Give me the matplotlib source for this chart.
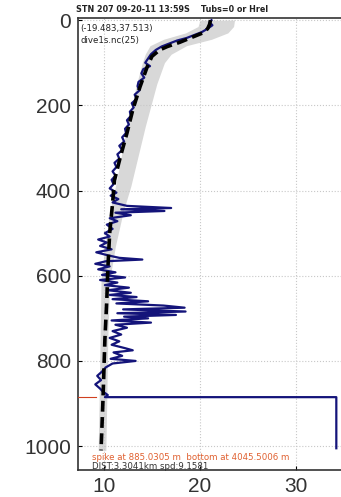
import matplotlib
matplotlib.use("Agg")
import matplotlib.pyplot as plt

plt.rcParams["font.family"] = ["Liberation Sans", "DejaVu Sans"]

# climatology envelope (depth m, temperature)
band_depth = [0, 15, 30, 45, 60, 80, 100, 150, 250, 390, 450, 530, 610, 750, 890, 1010]
band_lo = [20.0, 19.8, 18.5, 16.2, 14.8, 14.3, 14.0, 13.4, 12.4, 11.2, 10.6, 10.1, 9.7, 9.6, 9.5, 9.4]
band_hi = [23.6, 23.5, 22.9, 21.2, 18.6, 17.0, 16.3, 15.5, 14.3, 12.8, 12.0, 11.2, 10.6, 10.4, 10.3, 10.2]

# reference profile
ref_depth = [0, 10, 20, 30, 40, 52, 62, 70, 85, 110, 157, 211, 265, 322, 376, 430,
             500, 587, 657, 750, 892, 1010]
ref_temp = [21.1, 21.0, 20.8, 20.3, 19.2, 17.9, 16.6, 15.8, 15.0, 14.5, 13.75, 13.0,
            12.4, 11.7, 11.1, 10.9, 10.6, 10.4, 10.3, 10.1, 9.9, 9.7]

# measured cast
cast_depth = [0, 5, 12, 20, 28, 35, 42, 48, 55, 62, 70, 80, 90, 100, 108, 115, 125,
              135, 145, 155, 165, 175, 185, 195, 205, 215, 225, 235, 245, 255, 265,
              275, 285, 295, 305, 315, 325, 335, 345, 355, 365, 375, 385, 395, 405,
              412, 420, 428, 436, 441, 444, 448, 452, 458, 465, 472, 480, 490, 500,
              508, 515, 522, 530, 538, 545, 552, 558, 562, 566, 572, 578, 585, 592,
              598, 604, 610, 616, 622, 628, 634, 640, 645, 650, 655, 660, 665, 670,
              675, 679, 684, 688, 692, 696, 700, 705, 710, 715, 722, 730, 738, 746,
              754, 762, 770, 775, 780, 788, 795, 800, 806, 815, 825, 835, 845, 855,
              865, 872, 880, 885, 885, 1005]
cast_temp = [21.2, 21.0, 21.3, 20.8, 20.2, 19.4, 18.6, 17.6, 16.8, 16.0, 15.4, 14.9,
             14.6, 14.3, 14.8, 14.1, 13.9, 14.2, 13.6, 13.5, 13.7, 13.2, 13.4, 12.9,
             13.1, 12.7, 12.8, 12.4, 12.6, 12.2, 12.3, 11.9, 12.1, 11.6, 11.9, 11.4,
             11.6, 11.1, 11.3, 10.9, 11.2, 10.8, 11.0, 10.6, 11.3, 10.7, 11.5, 10.9,
             12.4, 17.0, 11.8, 16.3, 11.2, 12.8, 10.6, 11.4, 10.3, 10.9, 10.1, 10.6,
             9.4, 10.3, 9.6, 10.8, 9.2, 10.4, 11.6, 14.0, 10.2, 9.1, 10.6, 9.4, 11.2,
             9.8, 12.2, 9.6, 11.4, 10.1, 12.6, 10.4, 12.8, 10.6, 13.4, 10.9, 14.6,
             11.3, 16.2, 18.4, 12.0, 18.5, 11.4, 17.5, 12.1, 14.6, 10.8, 14.9, 11.2,
             12.4, 10.9, 11.8, 10.6, 11.6, 10.8, 12.2, 13.0, 11.0, 11.9, 10.7, 13.3,
             10.9, 10.2, 9.8, 9.3, 9.7, 9.1, 9.6, 9.9, 10.4, 10.1, 34.2, 34.2]

spike_depth = 885.0305
x_ticks = [10, 20, 30]
y_ticks = [0, 200, 400, 600, 800, 1000]

fig = plt.figure(figsize=(3.41, 4.97), dpi=100)
ax = fig.add_axes([78 / 341, 27 / 497, 266 / 341, 452 / 497])

ax.fill_betweenx(band_depth, band_lo, band_hi, color="#d8d8d8", lw=0, zorder=1)
ax.plot(cast_temp, cast_depth, color="#14147a", lw=1.6, zorder=3)
ax.plot(ref_temp, ref_depth, color="black", lw=2.6, ls=(0, (3, 1.5)), zorder=4)
ax.plot([7.3, 9.2], [spike_depth, spike_depth], color="#d04020", lw=0.8, zorder=5)

ax.set_xlim(7.3, 35.0)
ax.set_ylim(1056, -5)
ax.set_xticks(x_ticks)
ax.set_yticks(y_ticks)
ax.grid(True, color="#c8c8c8", ls=":", lw=0.8)
ax.tick_params(labelsize=15, labelcolor="#333333", direction="in", length=3, pad=5)
ax.spines["right"].set_visible(False)
for s in ("left", "bottom", "top"):
    ax.spines[s].set_color("#333333")
    ax.spines[s].set_linewidth(1.2)

small = ["DejaVu Sans"]
fig.text(76 / 341, 1 - 9 / 497, "STN 207 09-20-11 13:59S    Tubs=0 or Hrel",
         fontsize=5.8, fontweight="bold", color="#222222", va="center", family=small)
ax.text(0.01, 0.976, "(-19.483,37.513)", transform=ax.transAxes, fontsize=6.2,
        color="#222222", va="center", family=small)
ax.text(0.01, 0.951, "dive1s.nc(25)", transform=ax.transAxes, fontsize=6.2,
        color="#222222", va="center", family=small)
ax.text(0.052, 0.027, "spike at 885.0305 m  bottom at 4045.5006 m",
        transform=ax.transAxes, fontsize=6.2, color="#e06030", va="center", family=small)
ax.text(0.052, 0.008, "DIST:3.3041km spd:9.1581", transform=ax.transAxes,
        fontsize=6.2, color="#333333", va="center", family=small)

fig.savefig("out.png", dpi=100)
